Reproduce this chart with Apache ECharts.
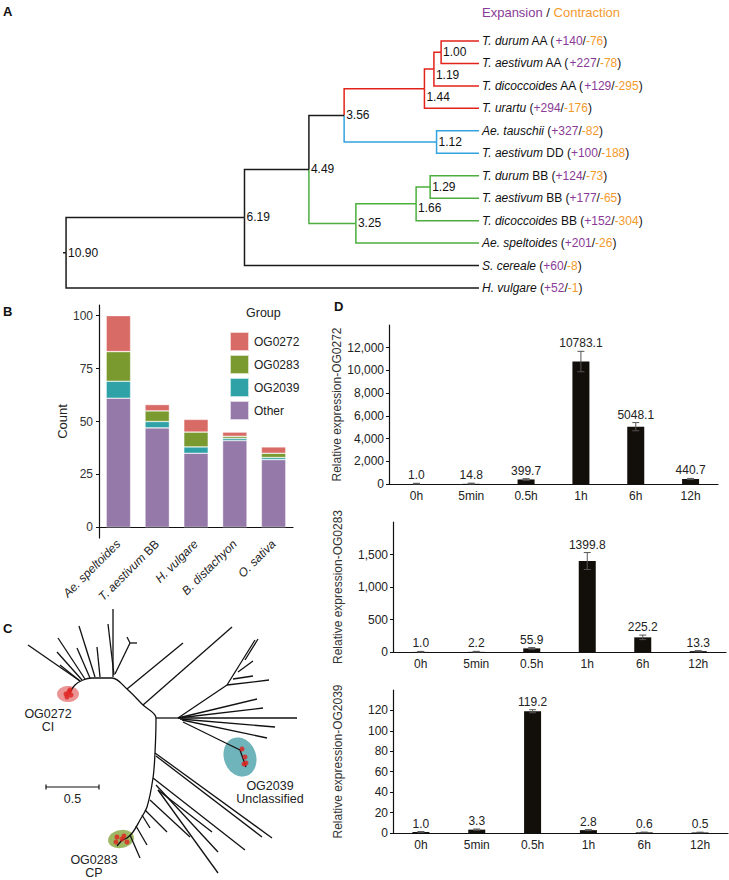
<!DOCTYPE html>
<html><head><meta charset="utf-8">
<script src="https://cdn.jsdelivr.net/npm/echarts@6/dist/echarts.min.js"></script>
<style>html,body{margin:0;padding:0;background:#fff}#c{width:729px;height:880px}</style>
</head><body><div id="c"></div>
<script>
// ---------------- Panel A : species tree ----------------
const leafNames = ['T. durum','T. aestivum','T. dicoccoides','T. urartu','Ae. tauschii','T. aestivum','T. durum','T. aestivum','T. dicoccoides','Ae. speltoides','S. cereale','H. vulgare'];
const leafGenome = ['AA','AA','AA','','','DD','BB','BB','BB','','',''];
const expansion = [140,227,129,294,327,100,124,177,152,201,60,52];
const contraction = [76,78,295,176,82,188,73,65,304,26,8,1];
const nodeAges = [1.00,1.19,1.44,1.12,3.56,1.29,1.66,3.25,4.49,6.19,10.90];
const nodeChildren = [['L0','L1'],['N0','L2'],['N1','L3'],['L4','L5'],['N2','N3'],['L6','L7'],['N5','L8'],['N6','L9'],['N4','N7'],['N8','L10'],['N9','L11']];
const cladeRoots = {N2:1, N3:2, N7:3};

// ---------------- Panel B : counts ----------------
const speciesB = ['Ae. speltoides','T. aestivum BB','H. vulgare','B. distachyon','O. sativa'];
const groupNames = ['OG0272','OG0283','OG2039','Other'];
const countOG0272 = [17,3,6,2,3];
const countOG0283 = [14,5,7,1,2];
const countOG2039 = [8,3,3,1,1];
const countOther = [61,47,35,41,32];
const countTicks = [0,25,50,75,100];

// ---------------- Panel C : unrooted gene tree (layout units) ----------------
const treeCBackbone = [[70,692],[75,685],[83,680],[92,678],[112,678],[127,689],[143,705],[156,718],[155,753],[153,778],[147,807],[140,820],[133,832],[127,838],[122,840]];
const treeCBranches = [
 [80,681,28,645],[85,679,58,638],[82,680,57,652],[80,681,60,665],[90,678,77,648],[95,677,79,626],[100,677,97,647],
 [113,677,113,609],[114,675,108,624],[115,674,130,643],[130,643,127,637],[130,643,137,643],
 [127,689,183,643],[143,705,232,627],
 [156,718,178,718],[178,718,297,718],[180,719,275,727],[182,720,267,738],[178,718,263,708],[178,718,257,699],
 [178,718,227,685],[227,685,269,680],[227,685,255,640],[233,679,253,676],[238,672,253,661],[245,660,258,639],
 [183,722,240,750],[240,750,246,767],
 [155,753,272,838],[156,756,262,837],[153,778,245,850],[156,785,218,852],[158,790,212,832],[158,790,218,873],
 [150,800,190,837],[145,810,167,832],[142,815,150,828],[136,826,147,845],[130,835,140,858],[122,840,117,846]
];
const cladeEllipses = [[68,694,11,8,0],[240,757,16,20,-20],[121,839,13,9,-10]];
const cladeDots = [[66,694],[69,692],[71,695],[67,697],[70,690],[242,749],[245,757],[246,763],[244,764],[117,837],[122,839],[127,842],[116,842],[124,836]];
const cladeLabels = ['OG0272\nCI','OG2039\nUnclassified','OG0283\nCP'];
const cladeLabelPos = [[48,720],[270,792],[94,866]];
const scaleBarLength = 0.5;

// ---------------- Panel D : expression ----------------
const timePoints = ['0h','5min','0.5h','1h','6h','12h'];
const exprOG0272 = [1.0,14.8,399.7,10783.1,5048.1,440.7];
const errOG0272 = [60,60,70,900,360,50];
const exprOG0283 = [1.0,2.2,55.9,1399.8,225.2,13.3];
const errOG0283 = [8,8,12,130,35,8];
const exprOG2039 = [1.0,3.3,119.2,2.8,0.6,0.5];
const errOG2039 = [0.4,0.6,1.5,0.5,0.3,0.3];
const ticksOG0272 = [0,2000,4000,6000,8000,10000,12000];
const ticksOG0283 = [0,500,1000,1500];
const ticksOG2039 = [0,20,40,60,80,100,120];

// ---------- build tree A layout ----------
const nodeY = {}, nodeAge = {}, parent = {};
leafNames.forEach((n,i)=>{nodeY['L'+i]=i; nodeAge['L'+i]=0;});
nodeChildren.forEach((ch,k)=>{const id='N'+k; nodeAge[id]=nodeAges[k]; nodeY[id]=(nodeY[ch[0]]+nodeY[ch[1]])/2; ch.forEach(c=>parent[c]=id);});
function cladeOf(id){let cur=id; while(cur){ if(cladeRoots[cur]) return cladeRoots[cur]; cur=parent[cur]; } return 0;}
const rootId = 'N'+(nodeChildren.length-1);
const branchData = Object.keys(parent).map(c=>{const p=parent[c]; return [nodeAge[p],nodeY[p],nodeAge[c],nodeY[c],cladeOf(c)];});
branchData.push([nodeAge[rootId]+0.08,nodeY[rootId],nodeAge[rootId],nodeY[rootId],0]);
const cladeColors = ['#1a1a1a','#e2231a','#33a3e0','#4cae3e'];
const nodeLabelDy = {1:6,2:8,6:4};
const FONT = 'Liberation Sans, Arial, sans-serif';
const PURPLE = '#8a3b98', ORANGE = '#f39a2c';

function fmtThousands(v){return String(v).replace(/\B(?=(\d{3})+(?!\d))/g, ',');}

function errorSeries(gridIdx, vals, errs){
  return {
    type:'custom', xAxisIndex:gridIdx, yAxisIndex:gridIdx, z:5,
    data: vals.map((v,i)=>[i,v,errs[i]]),
    encode:{x:0,y:1},
    renderItem(params, api){
      const i=api.value(0), v=api.value(1), e=api.value(2);
      const x=api.coord([i,0])[0];
      const top=api.coord([i,v+e])[1], bot=api.coord([i,Math.max(0,v-e)])[1];
      const st={stroke:'#555',lineWidth:1};
      return {type:'group',children:[
        {type:'line',shape:{x1:x,y1:top,x2:x,y2:bot},style:st},
        {type:'line',shape:{x1:x-3.5,y1:top,x2:x+3.5,y2:top},style:st},
        {type:'line',shape:{x1:x-3.5,y1:bot,x2:x+3.5,y2:bot},style:st},
        {type:'text',x:x,y:top-2,style:{text:v.toFixed(1),fill:'#222',fontSize:12,fontFamily:FONT,align:'center',verticalAlign:'bottom'}}
      ]};
    }
  };
}

const catAxisD = (g)=>({type:'category',gridIndex:g,data:timePoints,
  axisLine:{lineStyle:{color:'#111',width:1.2}},
  axisTick:{alignWithLabel:true,length:3,lineStyle:{color:'#111'}},
  axisLabel:{color:'#222',fontSize:12,margin:6,fontFamily:FONT}});
const valAxisD = (g,max,ticks,name,gap)=>({type:'value',gridIndex:g,min:0,max:max,
  name:name,nameLocation:'middle',nameGap:gap,nameTextStyle:{color:'#333',fontSize:12,fontFamily:FONT},
  splitLine:{show:false},
  axisLine:{show:true,lineStyle:{color:'#111',width:1.2}},
  axisTick:{show:true,length:3,customValues:ticks,lineStyle:{color:'#111'}},
  axisLabel:{customValues:ticks,color:'#222',fontSize:12,margin:5,fontFamily:FONT,formatter:fmtThousands}});

const option = {
  animation:false,
  textStyle:{fontFamily:FONT},
  title:[
    {text:'A',left:3,top:5,padding:0,textStyle:{fontSize:13,fontWeight:'bold',color:'#111'}},
    {text:'B',left:3,top:305,padding:0,textStyle:{fontSize:13,fontWeight:'bold',color:'#111'}},
    {text:'C',left:3,top:622,padding:0,textStyle:{fontSize:13,fontWeight:'bold',color:'#111'}},
    {text:'D',left:334,top:300,padding:0,textStyle:{fontSize:13,fontWeight:'bold',color:'#111'}},
    {text:'{p|Expansion} / {o|Contraction}',left:482,top:6,padding:0,textStyle:{fontSize:13,fontWeight:'normal',color:'#222',rich:{p:{color:PURPLE,fontSize:13},o:{color:ORANGE,fontSize:13}}}},
    {text:'Group',left:246,top:306,padding:0,textStyle:{fontSize:12.5,fontWeight:'normal',color:'#222'}}
  ],
  legend:{data:groupNames,orient:'vertical',left:224,top:326,itemWidth:19,itemHeight:19,itemGap:2,icon:'rect',
    textStyle:{fontSize:12,color:'#222'},selectedMode:false},
  grid:[
    {left:60,right:250,top:41,height:247},
    {left:99,right:436,top:305,height:233},
    {left:0,top:600,width:300,height:280},
    {left:389,right:11,top:325,height:159},
    {left:393,right:3,top:522,height:130},
    {left:393,right:1,top:690,height:143}
  ],
  xAxis:[
    {type:'value',gridIndex:0,min:0,max:11.06,inverse:true,show:false},
    {type:'category',gridIndex:1,data:speciesB,
      axisLine:{lineStyle:{color:'#111',width:1.2}},axisTick:{length:3,alignWithLabel:true,lineStyle:{color:'#111'}},
      axisLabel:{rotate:45,margin:4,color:'#222',fontSize:12,interval:0,
        formatter:v=>v.endsWith(' BB')?'{i|'+v.slice(0,-3)+'} {n|BB}':'{i|'+v+'}',
        rich:{i:{fontStyle:'italic',fontSize:12,color:'#222'},n:{fontSize:12,color:'#222'}}}},
    {type:'value',gridIndex:2,min:0,max:300,show:false},
    catAxisD(3),catAxisD(4),catAxisD(5)
  ],
  yAxis:[
    {type:'value',gridIndex:0,min:0,max:11,inverse:true,show:false},
    {type:'value',gridIndex:1,min:-5,max:105,name:'Count',nameLocation:'middle',nameGap:28,
      nameTextStyle:{fontSize:13,color:'#222'},splitLine:{show:false},
      axisLine:{show:true,lineStyle:{color:'#111',width:1.2}},
      axisTick:{show:true,length:3,customValues:countTicks,lineStyle:{color:'#111'}},
      axisLabel:{customValues:countTicks,color:'#333',fontSize:12,margin:6}},
    {type:'value',gridIndex:2,min:600,max:880,inverse:true,show:false},
    valAxisD(3,14000,ticksOG0272,'Relative expression-OG0272',45),
    valAxisD(4,2000,ticksOG0283,'Relative expression-OG0283',49),
    valAxisD(5,140,ticksOG2039,'Relative expression-OG2039',49)
  ],
  series:[
    // ---- A branches
    {type:'custom',xAxisIndex:0,yAxisIndex:0,data:branchData.map(b=>[b[0],b[1],b[2],b[3]]),encode:{x:[0,2],y:[1,3]},
      renderItem(params,api){const b=branchData[params.dataIndex];
        const p1=api.coord([b[0],b[1]]),p2=api.coord([b[0],b[3]]),p3=api.coord([b[2],b[3]]);
        return {type:'polyline',shape:{points:[p1,p2,p3]},style:{stroke:cladeColors[b[4]],lineWidth:1.5,fill:null}};}},
    // ---- A node labels
    {type:'custom',xAxisIndex:0,yAxisIndex:0,z:4,data:nodeAges.map((a,k)=>[a,nodeY['N'+k]]),encode:{x:0,y:1},
      renderItem(params,api){const k=params.dataIndex;const p=api.coord([api.value(0),api.value(1)]);
        return {type:'text',x:p[0]+2,y:p[1]+(nodeLabelDy[k]||0),style:{text:nodeAges[k].toFixed(2),fill:'#111',fontSize:12,fontFamily:FONT,align:'left',verticalAlign:'middle'}};}},
    // ---- A leaf labels
    {type:'custom',xAxisIndex:0,yAxisIndex:0,data:leafNames.map((n,i)=>[0,i]),encode:{x:0,y:1},
      renderItem(params,api){const i=params.dataIndex;const p=api.coord([0,i]);
        const g=leafGenome[i]?' '+leafGenome[i]:'';
        return {type:'text',x:p[0]+3,y:p[1],style:{text:'{i|'+leafNames[i]+'}'+g+' ({p|+'+expansion[i]+'}/{o|-'+contraction[i]+'})',
          fill:'#111',fontSize:12,fontFamily:FONT,align:'left',verticalAlign:'middle',
          rich:{i:{fontStyle:'italic',fontSize:12,fill:'#111',fontFamily:FONT},p:{fill:PURPLE,fontSize:12,fontFamily:FONT},o:{fill:ORANGE,fontSize:12,fontFamily:FONT}}}};}},
    // ---- B stacked bars
    {name:'Other',type:'bar',xAxisIndex:1,yAxisIndex:1,stack:'b',data:countOther,barWidth:'63%',itemStyle:{color:'#9479a9',borderColor:'rgba(255,255,255,0.7)',borderWidth:0.6}},
    {name:'OG2039',type:'bar',xAxisIndex:1,yAxisIndex:1,stack:'b',data:countOG2039,itemStyle:{color:'#2ea2a6',borderColor:'rgba(255,255,255,0.7)',borderWidth:0.6}},
    {name:'OG0283',type:'bar',xAxisIndex:1,yAxisIndex:1,stack:'b',data:countOG0283,itemStyle:{color:'#7a9a30',borderColor:'rgba(255,255,255,0.7)',borderWidth:0.6}},
    {name:'OG0272',type:'bar',xAxisIndex:1,yAxisIndex:1,stack:'b',data:countOG0272,itemStyle:{color:'#d96b67',borderColor:'rgba(255,255,255,0.7)',borderWidth:0.6}},
    // ---- C ellipses
    {type:'custom',xAxisIndex:2,yAxisIndex:2,z:1,data:cladeEllipses,encode:{x:0,y:1},
      renderItem(params,api){const e=cladeEllipses[params.dataIndex];const cols=['rgba(228,112,112,0.75)','rgba(95,172,178,0.9)','rgba(140,170,72,0.85)'];
        const pts=[];const r=e[4]*Math.PI/180;
        for(let t=0;t<48;t++){const a=t/48*2*Math.PI;const dx=e[2]*Math.cos(a),dy=e[3]*Math.sin(a);
          pts.push(api.coord([e[0]+dx*Math.cos(r)-dy*Math.sin(r), e[1]+dx*Math.sin(r)+dy*Math.cos(r)]));}
        return {type:'polygon',shape:{points:pts},style:{fill:cols[params.dataIndex],stroke:null}};}},
    // ---- C backbone
    {type:'line',xAxisIndex:2,yAxisIndex:2,z:3,data:treeCBackbone,showSymbol:false,smooth:0.35,lineStyle:{color:'#111',width:1.3},silent:true},
    // ---- C branches
    {type:'custom',xAxisIndex:2,yAxisIndex:2,z:3,data:treeCBranches,encode:{x:[0,2],y:[1,3]},
      renderItem(params,api){const p1=api.coord([api.value(0),api.value(1)]),p2=api.coord([api.value(2),api.value(3)]);
        return {type:'line',shape:{x1:p1[0],y1:p1[1],x2:p2[0],y2:p2[1]},style:{stroke:'#111',lineWidth:1.3}};}},
    // ---- C dots
    {type:'scatter',xAxisIndex:2,yAxisIndex:2,z:4,data:cladeDots,symbolSize:5,itemStyle:{color:'#e0211d'},silent:true},
    // ---- C labels
    {type:'custom',xAxisIndex:2,yAxisIndex:2,z:4,data:cladeLabelPos,encode:{x:0,y:1},
      renderItem(params,api){const p=api.coord([api.value(0),api.value(1)]);
        return {type:'text',x:p[0],y:p[1],style:{text:cladeLabels[params.dataIndex],fill:'#222',fontSize:12.5,lineHeight:13,fontFamily:FONT,align:'center',verticalAlign:'middle'}};}},
    // ---- C scale bar
    {type:'custom',xAxisIndex:2,yAxisIndex:2,z:4,data:[[46,787]],encode:{x:0,y:1},
      renderItem(params,api){const a=api.coord([46,787]);const b=api.coord([46+scaleBarLength*106,787]);const st={stroke:'#111',lineWidth:1.2};
        return {type:'group',children:[
          {type:'line',shape:{x1:a[0],y1:a[1],x2:b[0],y2:b[1]},style:st},
          {type:'line',shape:{x1:a[0],y1:a[1]-2.5,x2:a[0],y2:a[1]+2.5},style:st},
          {type:'line',shape:{x1:b[0],y1:b[1]-2.5,x2:b[0],y2:b[1]+2.5},style:st},
          {type:'text',x:(a[0]+b[0])/2,y:a[1]+12,style:{text:String(scaleBarLength),fill:'#222',fontSize:12.5,fontFamily:FONT,align:'center',verticalAlign:'middle'}}]};}},
    // ---- D bars
    {type:'bar',xAxisIndex:3,yAxisIndex:3,data:exprOG0272,barWidth:17,itemStyle:{color:'#120e0a'}},
    errorSeries(3,exprOG0272,errOG0272),
    {type:'bar',xAxisIndex:4,yAxisIndex:4,data:exprOG0283,barWidth:17,itemStyle:{color:'#120e0a'}},
    errorSeries(4,exprOG0283,errOG0283),
    {type:'bar',xAxisIndex:5,yAxisIndex:5,data:exprOG2039,barWidth:17,itemStyle:{color:'#120e0a'}},
    errorSeries(5,exprOG2039,errOG2039)
  ]
};
const chart = echarts.init(document.getElementById('c'),null,{renderer:'svg'});
chart.setOption(option);
</script></body></html>
